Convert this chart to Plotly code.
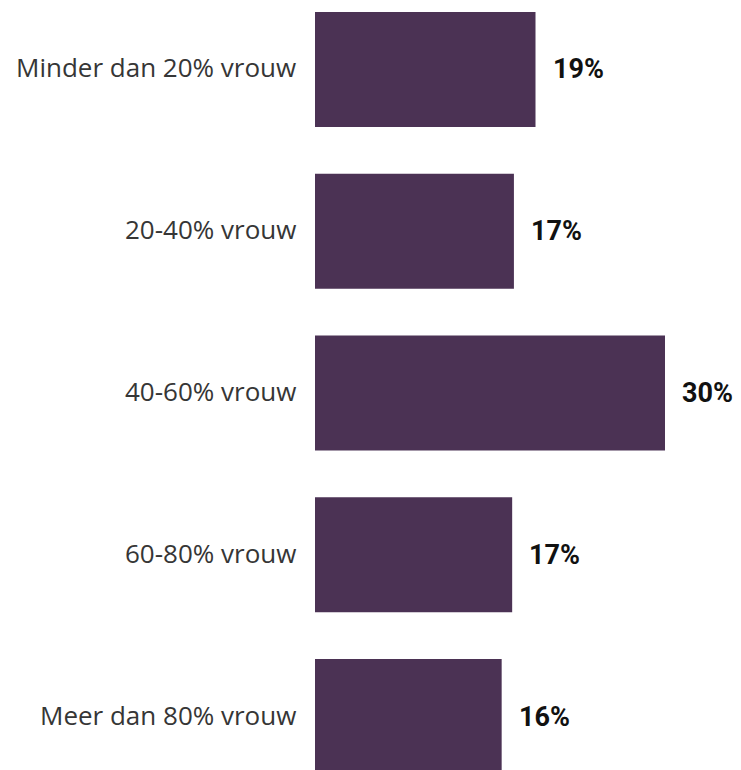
import plotly.graph_objects as go

categories = ["Minder dan 20% vrouw", "20-40% vrouw", "40-60% vrouw", "60-80% vrouw", "Meer dan 80% vrouw"]
values = [18.9, 17.05, 30.0, 16.9, 16.0]
labels = ["19%", "17%", "30%", "17%", "16%"]

fig = go.Figure()
fig.add_trace(go.Bar(
    y=categories, x=values, orientation="h",
    marker=dict(color="#4B3254", line=dict(width=0)),
    hoverinfo="skip",
))

for c, v, l in zip(categories, values, labels):
    fig.add_annotation(x=v, y=c, xref="x", yref="y", text="<b>%s</b>" % l,
                       showarrow=False, xanchor="left", xshift=15,
                       font=dict(family="Roboto", size=27, color="#111111"))
    fig.add_annotation(x=0, y=c, xref="paper", yref="y", text=c,
                       showarrow=False, xanchor="right", xshift=-17, yshift=2,
                       font=dict(family="Open Sans", size=26, color="#363636"))

fig.update_layout(
    width=741, height=770,
    margin=dict(l=307, r=0, t=0, b=0),
    paper_bgcolor="white", plot_bgcolor="white",
    bargap=0.289,
    showlegend=False,
    xaxis=dict(range=[0, 37.2], visible=False, fixedrange=True),
    yaxis=dict(type="category", categoryorder="array", categoryarray=categories,
               range=[4.38, -0.38], visible=False),
)
fig.write_html("out.html")
